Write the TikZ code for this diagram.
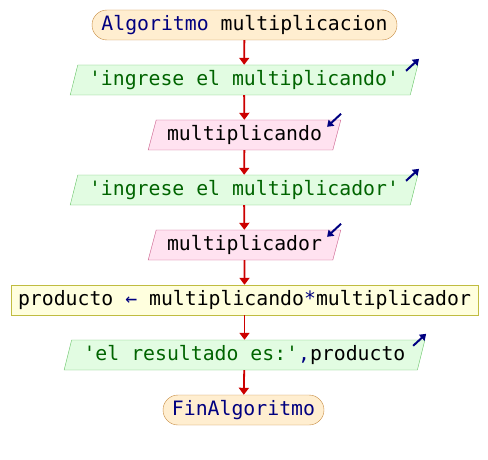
\documentclass[tikz,border=0pt]{standalone}
\usepackage{fontspec}
\setmainfont{DejaVu Sans Mono}
\usepackage{tikz}
\usetikzlibrary{shapes.geometric,
        arrows.meta}
\usepackage{xcolor}
\definecolor{termfill}{RGB}{255,238,208}
\definecolor{termline}{RGB}{198,138,62}
\definecolor{outfill}{RGB}{226,252,226}
\definecolor{outline}{RGB}{104,196,104}
\definecolor{infill}{RGB}{255,226,240}
\definecolor{inline}{RGB}{200,84,132}
\definecolor{procfill}{RGB}{255,255,222}
\definecolor{procline}{RGB}{192,188,64}
\definecolor{flujo}{RGB}{204,0,0}
\definecolor{clave}{RGB}{0,0,128}
\definecolor{cadena}{RGB}{0,100,0}

\begin{document}
\begin{tikzpicture}[x=1pt,y=-1pt,font=\fontsize{19.8}{22}\selectfont,
        terminal/.style={rectangle,rounded corners=15pt,draw=termline,fill=termfill,minimum height=30pt,inner sep=0pt},
        salida/.style={trapezium,trapezium left angle=70,trapezium right angle=110,trapezium stretches=true,draw=outline,fill=outfill,minimum height=30pt,inner sep=0pt},
        entrada/.style={trapezium,trapezium left angle=70,trapezium right angle=110,trapezium stretches=true,draw=inline,fill=infill,minimum height=30pt,inner sep=0pt},
        proceso/.style={rectangle,draw=procline,fill=procfill,minimum height=30pt,inner sep=0pt},
        flecha/.style={draw=flujo,line width=1.8pt,-{Triangle[width=10pt,length=7pt]}},
        icono/.style={draw=clave,line width=2pt,-{Triangle[width=8pt,length=6pt]}}]
        \useasboundingbox (0,0) rectangle (488,460);
        \node [terminal,minimum width=305pt] (1) at (244.5,25) {\textcolor{clave}{Algoritmo} multiplicacion};
        \node [salida,minimum width=348pt] (2) at (244,80) {\textcolor{cadena}{\textquotesingle ingrese el multiplicando\textquotesingle}};
        \node [entrada,minimum width=193pt] (3) at (244.5,135) {multiplicando};
        \node [salida,minimum width=348pt] (4) at (244,190) {\textcolor{cadena}{\textquotesingle ingrese el multiplicador\textquotesingle}};
        \node [entrada,minimum width=193pt] (5) at (244.5,245) {multiplicador};
        \node [proceso,minimum width=467pt] (6) at (244.5,300) {producto \textcolor{clave}{←} multiplicando\textcolor{clave}{*}multiplicador};
        \node [salida,minimum width=361pt] (7) at (244.5,355) {\textcolor{cadena}{\textquotesingle el resultado es:\textquotesingle}\textcolor{clave}{,}producto};
        \node [terminal,minimum width=161pt] (8) at (243.5,410) {\textcolor{clave}{FinAlgoritmo}};

        \draw [flecha] (1) -- (2);
        \draw [flecha] (2) -- (3);
        \draw [flecha] (3) -- (4);
        \draw [flecha] (4) -- (5);
        \draw [flecha] (5) -- (6);
        \draw [flecha] (6) -- (7);
        \draw [flecha] (7) -- (8);

        \draw [icono] ([shift={(-12pt,-6pt)}]2.top right corner) -- ([shift={(1pt,6pt)}]2.top right corner);
        \draw [icono] ([shift={(0pt,6pt)}]3.top right corner) -- ([shift={(-14pt,-7pt)}]3.top right corner);
        \draw [icono] ([shift={(-12pt,-6pt)}]4.top right corner) -- ([shift={(1pt,6pt)}]4.top right corner);
        \draw [icono] ([shift={(0pt,6pt)}]5.top right corner) -- ([shift={(-14pt,-7pt)}]5.top right corner);
        \draw [icono] ([shift={(-12pt,-6pt)}]7.top right corner) -- ([shift={(1pt,6pt)}]7.top right corner);
    \end{tikzpicture}
\end{document}
